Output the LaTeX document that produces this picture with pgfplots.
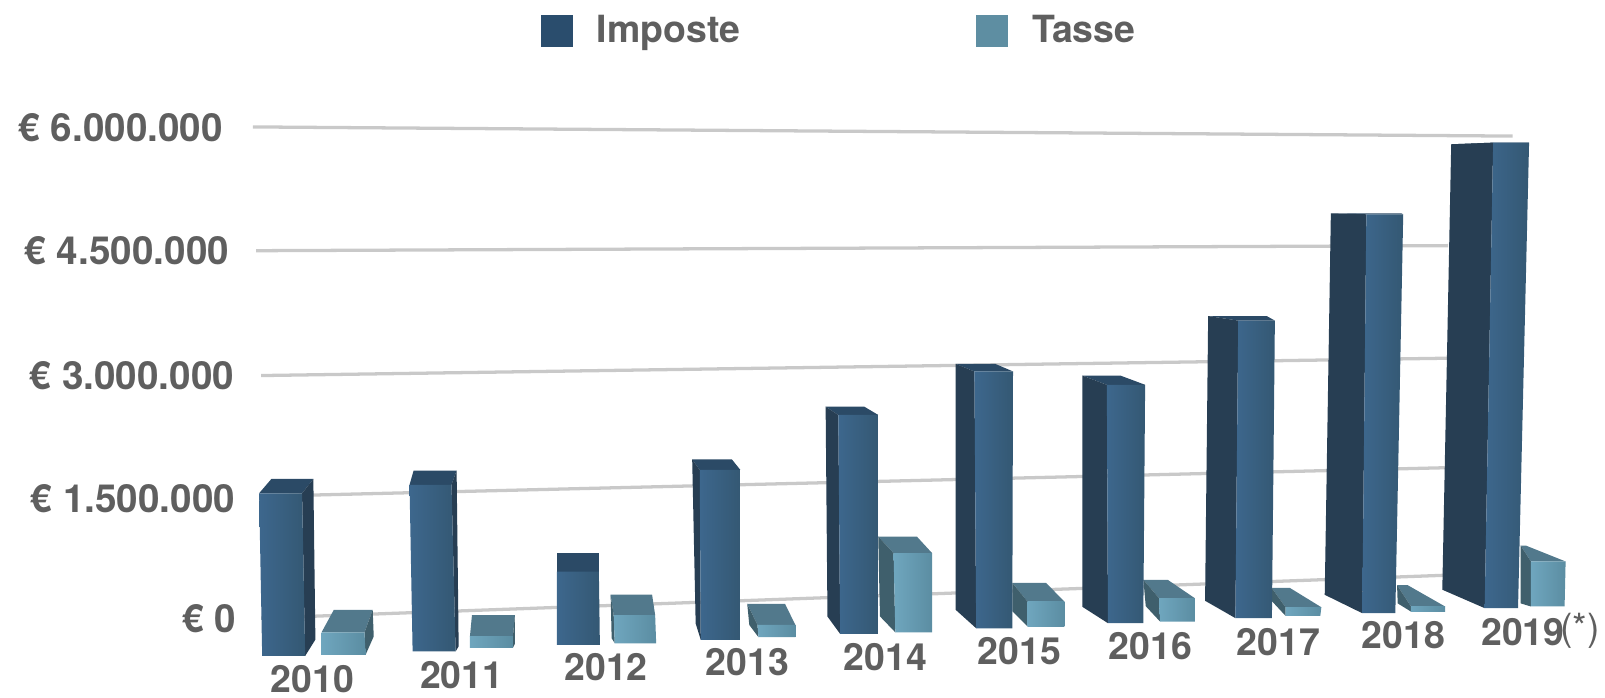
\documentclass[border=0pt]{standalone}
\usepackage{fontspec}
\setmainfont{TeX Gyre Heros}
\usepackage{pgfplots}
\usepackage{pgfplotstable}
\pgfplotsset{compat=1.18}

\definecolor{txt}{HTML}{5F5F5F}
\definecolor{gridc}{HTML}{C9C9C9}
\definecolor{impL}{HTML}{3D678D}
\definecolor{impR}{HTML}{345873}
\definecolor{impT}{HTML}{2B4A66}
\definecolor{impS}{HTML}{273E53}
\definecolor{impK}{HTML}{2A4D6D}
\definecolor{tasL}{HTML}{6FA6BE}
\definecolor{tasR}{HTML}{5B8DA2}
\definecolor{tasT}{HTML}{52798C}
\definecolor{tasS}{HTML}{3F5F6C}
\definecolor{tasK}{HTML}{5E8EA2}

% x in picture px (perspective), y in thousands of euro
% xtl xtr yt: front top edge, xbl xbr yb: front base, then back offsets
\pgfplotstableread{
year xtl xtr yt xbl xbr yb dxl dxr dyt bdx dyb
2010 253 295 1537 256 298 -450 12 11 175 10 200
2011 400 441 1640 403 445 -395 4 5 175 3 62
2012 544 585 581 544 586 -315 0 0 225 0 0
2013 683.6 723.3 1822 684.6 723.3 -254 -7.4 -8.4 130 -5 200
2014 819 858 2494 820.8 858 -181 -12.4 -13.5 100 -12.4 212
2015 952 989.7 3025 953.7 989 -112 -18.5 -17.6 94 -20 225
2016 1081.4 1118.8 2862 1082.5 1117 -50 -23.8 -24 112 -25 200
2017 1209.8 1245.6 3646 1207 1242.7 12 -29.4 -8 56 -29.6 212
2018 1335 1371 4945 1331 1363.3 72 -34.7 -2 12 -36.7 225
2019 1458.9 1494 5820 1450.6 1483.2 134 -41 -3 -20 -41.4 225
}\imptab

\pgfplotstableread{
year xtl xtr yt xbl xbr yb dxl dxr dyt bdx dyb
2010 314 356 -162 314 357 -437 12 8 275 8 225
2011 459 501 -212 459 501 -350 2 2 262 2 50
2012 599.5 640 50 600.5 641 -295 -3 -3 250 -3 62
2013 740 777 -71 741 777 -221 -10 -10 256 -9 150
2014 873 910.7 805 874.7 910.7 -162 -15 -15 204 -15 195
2015 1004 1040 212 1004 1040 -91 -15 -18 231 -15 188
2016 1132.4 1167.4 255 1133.4 1167.4 -30 -15.3 -26.5 225 -14 188
2017 1256 1291 145 1256 1290 40 -13.6 -31 238 -13 175
2018 1378.6 1411.9 154 1378.6 1411.9 92 -13.6 -36.7 262 -13 100
2019 1495.8 1529.7 704 1495.8 1528.7 154 -10 -39 195 -10 38
}\tastab

% #1 colour prefix, #2 table, #3 row
\newcommand\tdbar[3]{%
  \def\getv##1##2{\pgfplotstablegetelem{#3}{##1}\of{#2}\let##2\pgfplotsretval}%
  \getv{xtl}\xtl \getv{xtr}\xtr \getv{yt}\yt
  \getv{xbl}\xbl \getv{xbr}\xbr \getv{yb}\yb
  \getv{dxl}\dxl \getv{dxr}\dxr \getv{dyt}\dyt
  \getv{bdx}\bdx \getv{dyb}\dyb
  \pgfmathsetmacro\tbl{\xtl+\dxl}
  \pgfmathsetmacro\tbr{\xtr+\dxr}
  \pgfmathsetmacro\ytb{\yt+\dyt}
  \pgfmathsetmacro\sidetf{\dxl>0?\xtr:\xtl}
  \pgfmathsetmacro\sidebf{\dxl>0?\xbr:\xbl}
  \pgfmathsetmacro\sidetb{\dxl>0?\tbr:\tbl}
  \pgfmathsetmacro\sidebb{\sidebf+\bdx}
  \pgfmathsetmacro\ybb{\yb+\dyb}
  \addplot[forget plot,draw=none,fill=#1T] coordinates {(\xtl,\yt) (\xtr,\yt) (\tbr,\ytb) (\tbl,\ytb)} --cycle;
  \addplot[forget plot,draw=none,fill=#1S] coordinates {(\sidetf,\yt) (\sidetb,\ytb) (\sidebb,\ybb) (\sidebf,\yb)} --cycle;
  \addplot[forget plot,draw=none,left color=#1L,right color=#1R] coordinates {(\xtl,\yt) (\xtr,\yt) (\xbr,\yb) (\xbl,\yb)} --cycle;
}

\begin{document}
\begin{tikzpicture}[yr/.style={font=\fontsize{18.3}{20}\selectfont\bfseries,text=txt,inner sep=0pt}]
\begin{axis}[
    scale only axis,
    width=784pt, height=341pt,
    xmin=0, xmax=1568,
    ymin=-962.5, ymax=7562.5,
    axis line style={draw=none},
    major tick length=0pt,
    xtick=\empty,
    ytick={0,1500,3000,4500,6000},
    yticklabels={€ 0,
      \raisebox{-1.5pt}[13.6pt][0.3pt]{€ 1.500.000}\kern0.5pt,
      \raisebox{-1pt}[13.6pt][0.3pt]{€ 3.000.000}\kern1pt,
      € 4.500.000\kern3.5pt,
      € 6.000.000\kern6.5pt},
    yticklabel style={font=\fontsize{18.9}{20}\selectfont\bfseries,text=txt,anchor=east,inner sep=0pt,xshift=115.5pt},
    legend columns=2,
    legend cell align=left,
    legend style={at={(0.3367,0.956)},anchor=west,draw=none,fill=none,inner sep=0pt,
      font=\fontsize{18.3}{20}\selectfont\bfseries,text=txt,
      /tikz/every odd column/.append style={column sep=10pt},
      /tikz/every even column/.append style={column sep=113pt}},
]
% gridlines, slanted by the perspective
\addplot[forget plot,color=gridc,line width=1.6pt] coordinates {(247,6012) (1478,5900)};
\addplot[forget plot,color=gridc,line width=1.6pt] coordinates {(250,4500) (1415,4562)};
\addplot[forget plot,color=gridc,line width=1.6pt] coordinates {(255,2975) (1415,3187)};
\addplot[forget plot,color=gridc,line width=1.6pt] coordinates {(255,1500) (1415,1850)};
\addplot[forget plot,color=gridc,line width=1.6pt] coordinates {(255,12) (1415,537)};

\pgfplotsinvokeforeach{0,...,9}{
  \tdbar{tas}{\tastab}{#1}
  \tdbar{imp}{\imptab}{#1}
}

\addlegendimage{legend image code/.code={\fill[impK] (0pt,-7.5pt) rectangle (15pt,7.5pt);}}
\addlegendentry{Imposte}
\addlegendimage{legend image code/.code={\fill[tasK] (0pt,-7.5pt) rectangle (15pt,7.5pt);}}
\addlegendentry{Tasse}

\node[yr] at (axis cs:305,-737) {2010};
\node[yr] at (axis cs:451,-687) {2011};
\node[yr] at (axis cs:592,-587) {2012};
\node[yr] at (axis cs:730,-525) {2013};
\node[yr] at (axis cs:865,-462) {2014};
\node[yr] at (axis cs:996,-387) {2015};
\node[yr] at (axis cs:1124,-325) {2016};
\node[yr] at (axis cs:1249,-275) {2017};
\node[yr] at (axis cs:1371,-200) {2018};
\node[yr] at (axis cs:1488,-162) {2019};
\node[yr,font=\fontsize{18.3}{20}\selectfont] at (axis cs:1544,-137) {(*)};
\end{axis}
\end{tikzpicture}
\end{document}
